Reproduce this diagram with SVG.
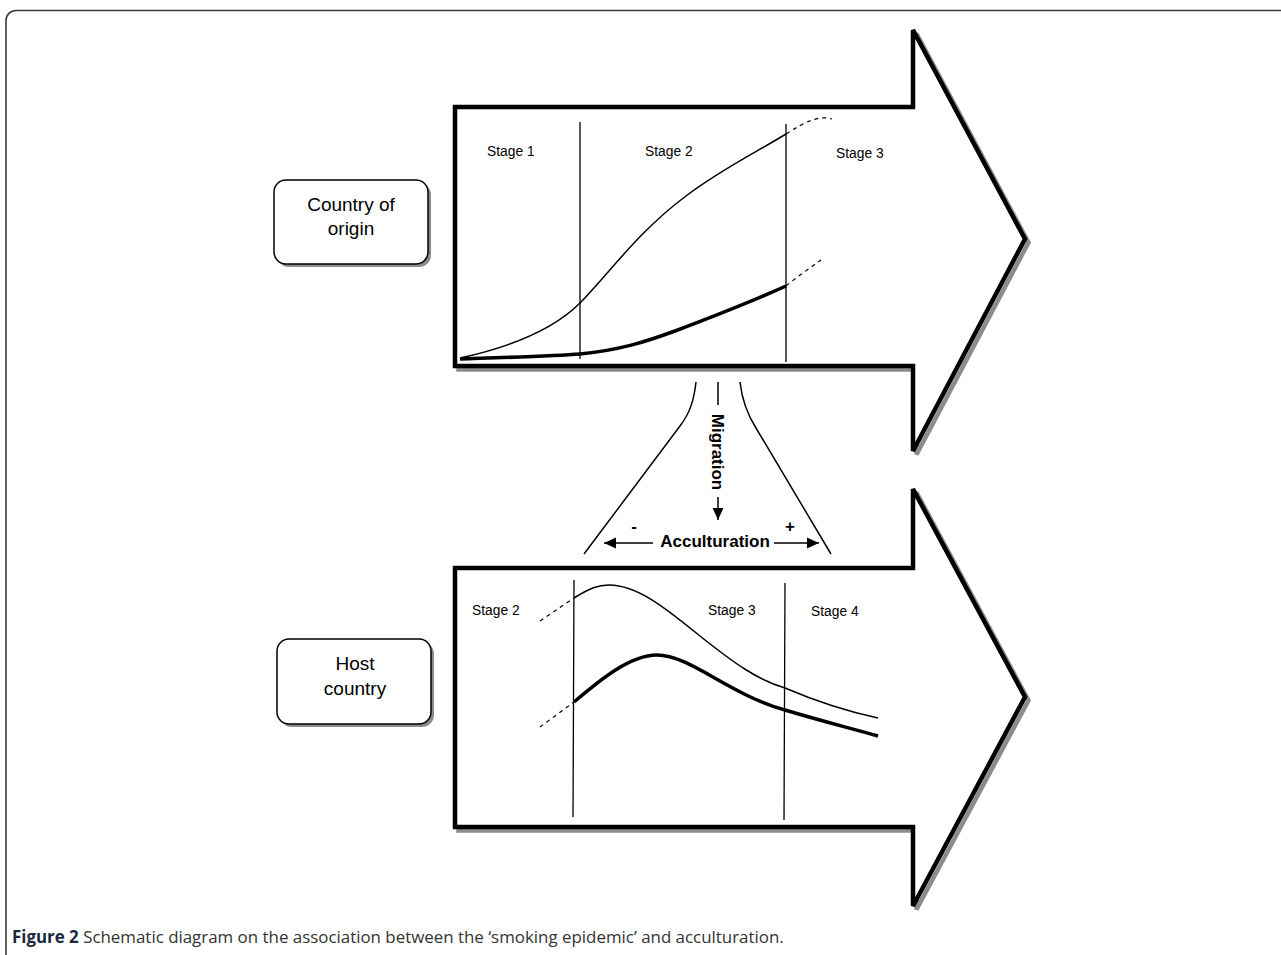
<svg xmlns="http://www.w3.org/2000/svg" width="1281" height="955" viewBox="0 0 1281 955">
<style>
.arrow{fill:#fff;stroke:#000;stroke-width:4.5;stroke-linejoin:miter}
.ashadow{fill:none;stroke:#8c8c8c;stroke-width:4.5}
.vline{stroke:#000;stroke-width:1.3;fill:none}
.thin{stroke:#000;stroke-width:1.5;fill:none}
.thick{stroke:#000;stroke-width:3.5;fill:none}
.dash{stroke:#000;stroke-width:1.2;fill:none;stroke-dasharray:4 4}
.stage{font-family:"Liberation Sans",Arial,sans-serif;font-size:13.8px;fill:#000}
.box{fill:#fff;stroke:#000;stroke-width:1.5}
.bshadow{fill:#8c8c8c}
.boxt{font-family:"Liberation Sans",Arial,sans-serif;font-size:19px;fill:#000;text-anchor:middle}
.lab{font-family:"Liberation Sans",Arial,sans-serif;font-size:17px;font-weight:bold;fill:#000}
.conn{stroke:#000;stroke-width:1.5;fill:none}
</style>
<defs>
<marker id="ahb" viewBox="0 0 10 10" refX="10" refY="5" markerWidth="12" markerHeight="12" markerUnits="userSpaceOnUse" orient="auto"><path d="M0,0.5 L10,5 L0,9.5 Z" fill="#000"/></marker>
</defs>
<rect x="6" y="10.5" width="1300" height="980" rx="10" ry="10" fill="#fff" stroke="#3a3a3a" stroke-width="1.6"/>

<g id="arrow-origin">
<path class="ashadow" transform="translate(3.5,3.5)" d="M455,107 H913 V30 L1025,239 L913,451 V366 H455 Z"/>
<path class="arrow" d="M455,107 H913 V30 L1025,239 L913,451 V366 H455 Z"/>
<line class="vline" x1="580" y1="122" x2="580" y2="359"/>
<line class="vline" x1="786" y1="124" x2="786" y2="362"/>
<text class="stage" x="487" y="156">Stage 1</text>
<text class="stage" x="645" y="156">Stage 2</text>
<text class="stage" x="836" y="158">Stage 3</text>
<path class="thin" d="M460,358 C515,346 555,328 580,303 C610,272 640,230 686,196 C720,170 755,153 786,134"/>
<path class="dash" d="M786,134 C805,122 818,115 832,119"/>
<path class="thick" d="M460,359 C520,357 555,356 580,354 C620,350 645,342 675,331 C720,314 755,300 786,286"/>
<path class="dash" d="M786,286 C798,276 810,268 821,260"/>
</g>

<g id="arrow-host">
<path class="ashadow" transform="translate(3.5,3.5)" d="M455,568 H913 V489 L1025,697 L913,906 V827 H455 Z"/>
<path class="arrow" d="M455,568 H913 V489 L1025,697 L913,906 V827 H455 Z"/>
<line class="vline" x1="574" y1="580" x2="573" y2="817"/>
<line class="vline" x1="785" y1="583" x2="784" y2="820"/>
<text class="stage" x="472" y="615">Stage 2</text>
<text class="stage" x="708" y="615">Stage 3</text>
<text class="stage" x="811" y="616">Stage 4</text>
<path class="dash" d="M540,621 L574,598"/>
<path class="thin" d="M574,598 C590,588 598,585 609,585 C638,585 668,610 700,636 C735,664 758,680 785,688 C820,703 850,712 878,718"/>
<path class="dash" d="M540,727 L574,702"/>
<path class="thick" d="M574,702 C600,680 630,655 657,655 C690,655 730,695 785,710 C825,722 850,728 878,736"/>
</g>

<g id="country-of-origin">
<rect class="bshadow" x="277" y="183" width="154" height="84" rx="12" ry="12"/>
<rect class="box" x="274" y="180" width="154" height="84" rx="12" ry="12"/>
<text class="boxt" x="351" y="211">Country of</text>
<text class="boxt" x="351" y="235">origin</text>
</g>

<g id="host-country">
<rect class="bshadow" x="280" y="642" width="154" height="85" rx="12" ry="12"/>
<rect class="box" x="277" y="639" width="154" height="85" rx="12" ry="12"/>
<text class="boxt" x="355" y="670">Host</text>
<text class="boxt" x="355" y="695">country</text>
</g>

<g id="connectors">
<path class="conn" d="M696,382 C694,400 690,413 680,426 L584,554"/>
<path class="conn" d="M740,382 C742,400 747,414 756,428 L831,554"/>
<line class="conn" x1="718" y1="382" x2="718" y2="405"/>
<line class="conn" x1="718" y1="497" x2="718" y2="520" marker-end="url(#ahb)"/>
<line class="conn" x1="653" y1="543" x2="604" y2="543" marker-end="url(#ahb)"/>
<line class="conn" x1="774" y1="543" x2="819" y2="543" marker-end="url(#ahb)"/>
</g>

<g id="labels">
<text class="lab" transform="translate(712,452) rotate(90)" text-anchor="middle" font-size="19.5">Migration</text>
<text class="lab" x="715" y="547" text-anchor="middle" font-size="17.8">Acculturation</text>
<text class="lab" x="634" y="532" text-anchor="middle" font-size="18">-</text>
<text class="lab" x="790" y="532" text-anchor="middle">+</text>
</g>

<text x="12" y="943" font-family="'Open Sans','Liberation Sans',Arial,sans-serif" font-size="16.9px" fill="#333"><tspan font-weight="bold" fill="#1c2740">Figure 2</tspan> Schematic diagram on the association between the ‘smoking epidemic’ and acculturation.</text>
</svg>
